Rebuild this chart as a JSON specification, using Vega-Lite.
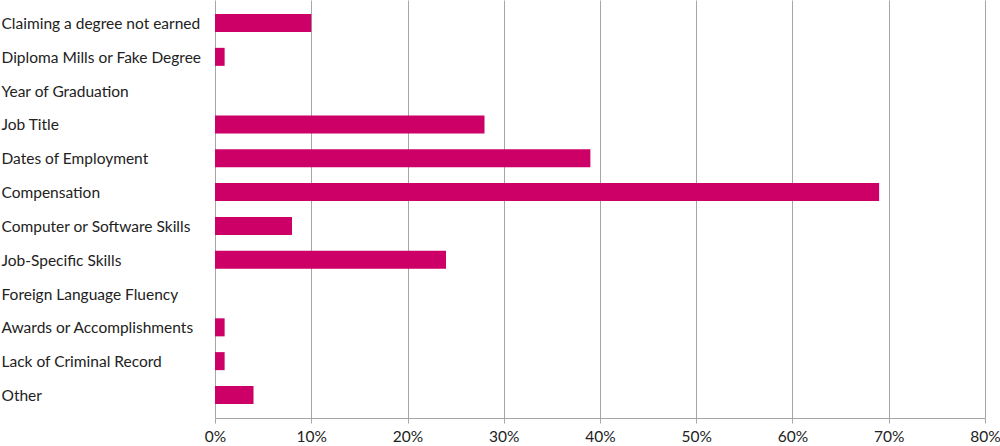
{
  "$schema": "https://vega.github.io/schema/vega-lite/v6.json",
  "autosize": {"type": "none"},
  "padding": {"left": 215, "top": 0, "right": 15, "bottom": 28},
  "width": 770,
  "height": 418,
  "background": "white",
  "data": {"values": [
    {"category": "Claiming a degree not earned", "value": 0.10},
    {"category": "Diploma Mills or Fake Degree", "value": 0.01},
    {"category": "Year of Graduation", "value": 0.0},
    {"category": "Job Title", "value": 0.28},
    {"category": "Dates of Employment", "value": 0.39},
    {"category": "Compensation", "value": 0.69},
    {"category": "Computer or Software Skills", "value": 0.08},
    {"category": "Job-Specific Skills", "value": 0.24},
    {"category": "Foreign Language Fluency", "value": 0.0},
    {"category": "Awards or Accomplishments", "value": 0.01},
    {"category": "Lack of Criminal Record", "value": 0.01},
    {"category": "Other", "value": 0.04}
  ]},
  "config": {
    "view": {"stroke": null},
    "font": "Lato"
  },
  "mark": {"type": "bar", "color": "#CC0066"},
  "encoding": {
    "y": {
      "field": "category", "type": "nominal", "sort": null,
      "scale": {"paddingInner": 0.467, "paddingOuter": 0.415},
      "axis": {
        "title": null, "ticks": false, "domain": false, "grid": false,
        "labelAlign": "left", "labelPadding": 214, "labelFontSize": 15.5,
        "labelColor": "#222", "labelFont": "Lato", "labelLimit": 0, "labelOffset": 1
      }
    },
    "x": {
      "field": "value", "type": "quantitative",
      "scale": {"domain": [0, 0.8], "nice": false},
      "axis": {
        "title": null, "format": ".0%", "values": [0, 0.1, 0.2, 0.3, 0.4, 0.5, 0.6, 0.7, 0.8],
        "grid": true, "gridColor": "#a6a6a6", "gridWidth": 1,
        "domainColor": "#a6a6a6", "tickColor": "#a6a6a6", "tickSize": 5,
        "labelFontSize": 15.5, "labelColor": "#222", "labelFont": "Lato", "labelPadding": 6,
        "labelFlush": false
      }
    }
  }
}
